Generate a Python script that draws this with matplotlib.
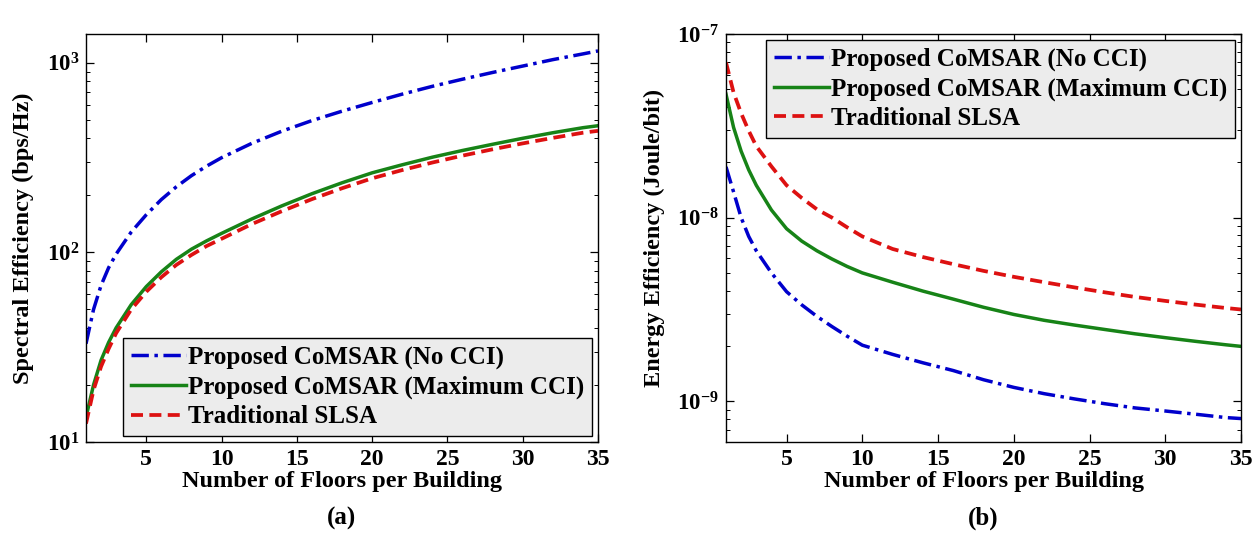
import matplotlib
matplotlib.use("Agg")
import matplotlib.pyplot as plt
from matplotlib.ticker import FuncFormatter, LogLocator, NullFormatter, FixedLocator
import numpy as np

plt.rcParams['font.family'] = ['Liberation Serif', 'DejaVu Serif']
plt.rcParams['font.weight'] = 'bold'
plt.rcParams['mathtext.fontset'] = 'custom'
plt.rcParams['mathtext.rm'] = 'Liberation Serif'
plt.rcParams['mathtext.bf'] = 'Liberation Serif:bold'
plt.rcParams['mathtext.it'] = 'Liberation Serif:italic'

# ---------------- data ----------------
floors = [1, 1.5, 2, 2.5, 3, 4, 5, 6, 7, 8, 9, 10, 12, 14, 16, 18, 20, 22, 24, 26, 28, 30, 32, 34, 35]

se_no_cci = [33, 50, 67, 83, 98, 128, 158, 190, 222, 254, 285, 316, 376, 436, 496, 556,
             618, 684, 752, 820, 890, 962, 1040, 1115, 1156]
se_max_cci = [13.5, 20, 27, 33.5, 40, 53, 66, 79, 92, 104, 115, 126, 150, 176, 204, 233,
              263, 290, 318, 345, 372, 400, 428, 455, 466]
se_slsa = [12.5, 18.8, 25, 31, 37.5, 50, 62, 74, 86, 97, 108, 118, 141, 165, 191, 218,
           246, 272, 298, 324, 350, 376, 402, 428, 438]

ee_no_cci = [1.89e-8, 1.38e-8, 1.0e-8, 7.9e-9, 6.6e-9, 5.0e-9, 3.95e-9, 3.35e-9, 2.9e-9,
             2.55e-9, 2.26e-9, 2.02e-9, 1.8e-9, 1.62e-9, 1.47e-9, 1.31e-9, 1.19e-9, 1.1e-9,
             1.03e-9, 0.97e-9, 0.92e-9, 0.885e-9, 0.85e-9, 0.815e-9, 0.805e-9]
ee_max_cci = [4.7e-8, 3.1e-8, 2.3e-8, 1.82e-8, 1.5e-8, 1.1e-8, 8.7e-9, 7.45e-9, 6.6e-9,
              5.95e-9, 5.42e-9, 5.0e-9, 4.45e-9, 3.98e-9, 3.6e-9, 3.25e-9, 2.97e-9, 2.76e-9,
              2.6e-9, 2.46e-9, 2.33e-9, 2.22e-9, 2.12e-9, 2.03e-9, 1.99e-9]
ee_slsa = [7.0e-8, 4.8e-8, 3.7e-8, 2.97e-8, 2.45e-8, 1.9e-8, 1.5e-8, 1.28e-8, 1.11e-8,
           1.0e-8, 8.85e-9, 7.9e-9, 6.75e-9, 6.1e-9, 5.58e-9, 5.13e-9, 4.76e-9, 4.45e-9,
           4.17e-9, 3.92e-9, 3.7e-9, 3.52e-9, 3.36e-9, 3.22e-9, 3.16e-9]

labels = ['Proposed CoMSAR (No CCI)', 'Proposed CoMSAR (Maximum CCI)', 'Traditional SLSA']
xticks = [5, 10, 15, 20, 25, 30, 35]
xlabel = 'Number of Floors per Building'
ylabels = ['Spectral Efficiency (bps/Hz)', 'Energy Efficiency (Joule/bit)']
captions = ['(a)', '(b)']

# ---------------- styles ----------------
colors = ['#0000cc', '#178317', '#dd1111']
styles = [dict(ls=(0, (5, 1.6, 1, 1.6)), lw=2.5),
          dict(ls='-', lw=2.5),
          dict(ls=(0, (3.2, 1.7)), lw=2.7)]

fig = plt.figure(figsize=(12.58, 5.40), dpi=100)
ax1 = fig.add_axes([86/1258, 98/540, 512/1258, 408/540])
ax2 = fig.add_axes([726/1258, 98/540, 515/1258, 408/540])

def logfmt(v, pos):
    e = int(round(np.log10(v)))
    return r'$\mathbf{10}^{\mathbf{%d}}$' % e

for ax, ys, ylab, cap, loc in [
        (ax1, [se_no_cci, se_max_cci, se_slsa], ylabels[0], captions[0], 'lower right'),
        (ax2, [ee_no_cci, ee_max_cci, ee_slsa], ylabels[1], captions[1], 'upper right')]:
    for y, c, st, lab in zip(ys, colors, styles, labels):
        ax.plot(floors, y, color=c, label=lab, **st)
    ax.set_yscale('log')
    ax.set_xlim(1, 35)
    ax.xaxis.set_major_locator(FixedLocator(xticks))
    ax.yaxis.set_major_formatter(FuncFormatter(logfmt))
    ax.yaxis.set_minor_locator(LogLocator(base=10, subs=np.arange(2, 10)))
    ax.yaxis.set_minor_formatter(NullFormatter())
    ax.tick_params(which='both', direction='in', top=True, right=True)
    ax.tick_params(axis='x', labelsize=17, pad=5)
    ax.tick_params(axis='y', labelsize=16.5, pad=5)
    ax.tick_params(which='major', length=6, width=0.9)
    ax.tick_params(which='minor', length=3, width=0.7)
    for s in ax.spines.values():
        s.set_linewidth(1.0)
    ax.set_xlabel(xlabel, fontsize=17.5, fontweight='bold', labelpad=1)
    ax.set_ylabel(ylab, fontsize=17.5, fontweight='bold', labelpad=9)
    leg = ax.legend(loc=loc, fontsize=18, frameon=True, fancybox=False,
                    edgecolor='black', facecolor='#ececec', framealpha=1,
                    handlelength=2.2, handletextpad=0.1, borderpad=0.3,
                    labelspacing=0.25, borderaxespad=0.25)
    leg.get_frame().set_linewidth(1.0)
    for t in leg.get_texts():
        t.set_fontweight('bold')
    bb = ax.get_position()
    fig.text(bb.x0 + bb.width / 2, 1 - 518 / 540, cap, ha='center', va='center',
             fontsize=18, fontweight='bold')

ax1.set_ylim(10, 1420)
ax2.set_ylim(6e-10, 1e-7)

fig.savefig('out.png', dpi=100, facecolor='white')
